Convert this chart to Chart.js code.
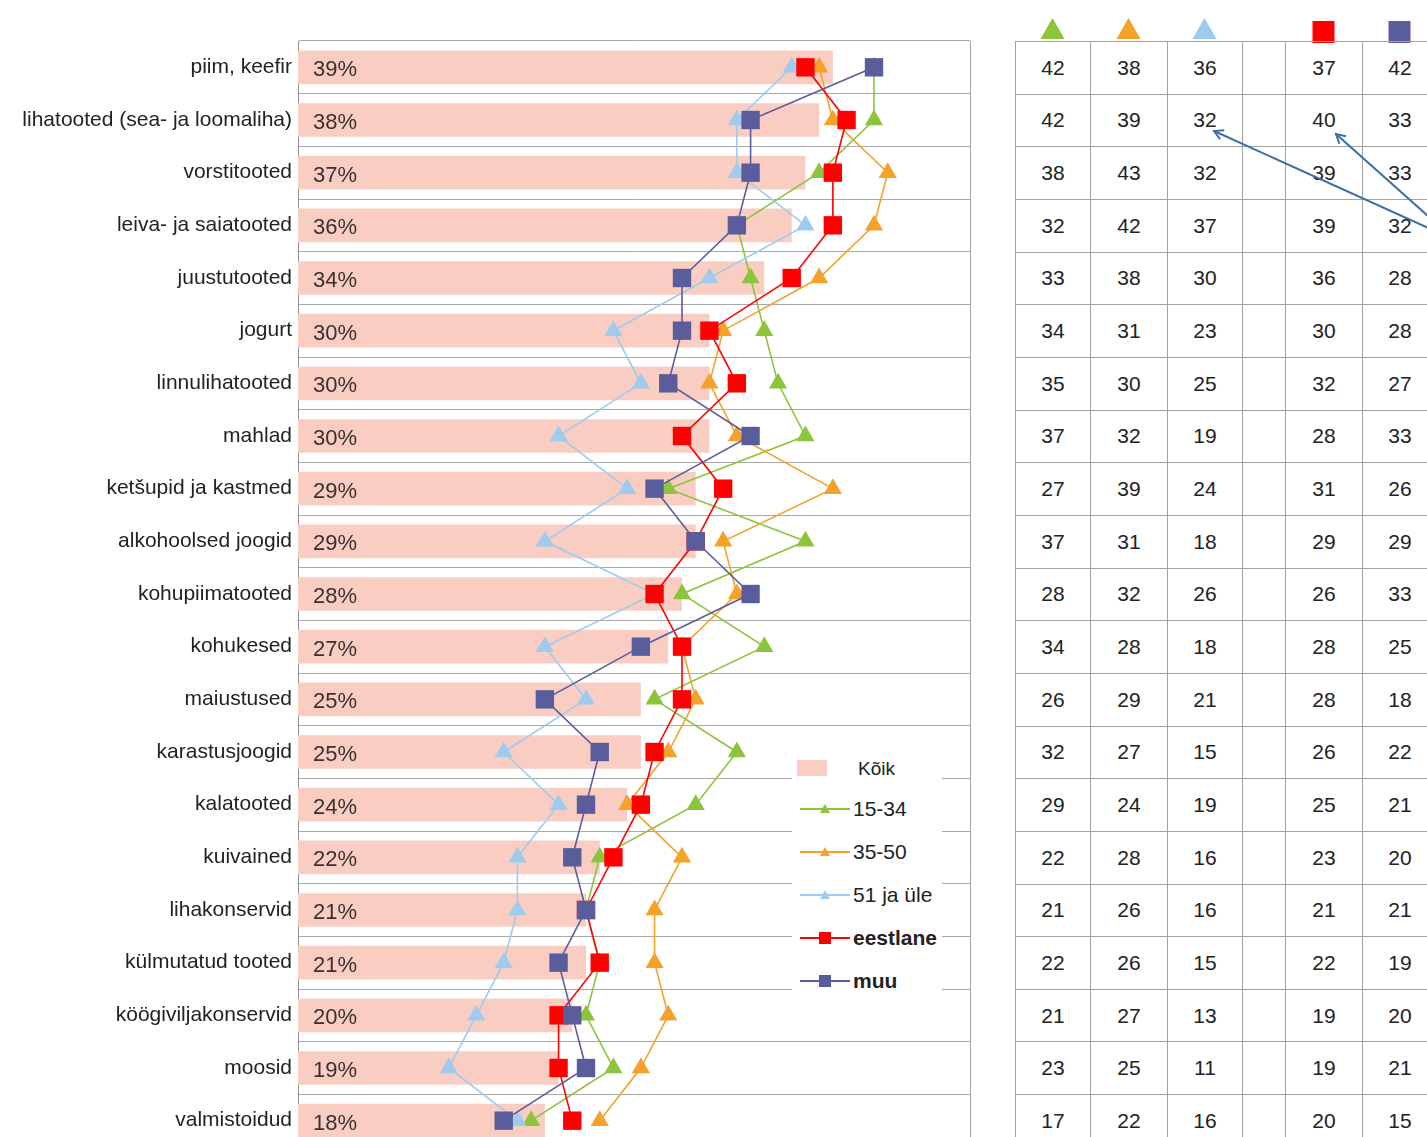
<!DOCTYPE html>
<html>
<head>
<meta charset="utf-8">
<script src="https://cdn.jsdelivr.net/npm/chart.js@4.4.1/dist/chart.umd.min.js"></script>
<style>
  html, body { margin: 0; padding: 0; background: #fff; overflow: hidden; }
  #wrap { position: relative; width: 1427px; height: 1137px; overflow: hidden; font-family: "Liberation Sans", Arial, sans-serif; }
  #chart { position: absolute; left: 0; top: 0; }
  #legend { position: absolute; background: #fff; color: #222; font-size: 21px; }
  #legend .item { position: absolute; left: 0; height: 24px; display: flex; align-items: center; }
  #tbl { position: absolute; border-collapse: collapse; table-layout: fixed; color: #222; font-size: 21px; }
  #tbl td { border: 1px solid #a3a3a3; text-align: center; padding: 0; }
  #icons { position: absolute; }
  #arrows { position: absolute; left: 0; top: 0; pointer-events: none; }
</style>
</head>
<body>
<div id="wrap">
  <canvas id="chart" width="983" height="1160" style="width:983px;height:1160px"></canvas>
  <div id="legend"></div>
  <svg id="icons" width="420" height="40"></svg>
  <table id="tbl"></table>
  <svg id="arrows" width="1427" height="1137">
    <defs>
      <marker id="head" markerWidth="12" markerHeight="12" refX="10" refY="6" orient="auto" markerUnits="userSpaceOnUse">
        <path d="M1,1 L10,6 L1,11" fill="none" stroke="#3c6ea6" stroke-width="2"/>
      </marker>
    </defs>
    <line x1="1455" y1="240" x2="1214" y2="131" stroke="#3c6ea6" stroke-width="2" marker-end="url(#head)"/>
    <line x1="1455" y1="240" x2="1336" y2="134" stroke="#3c6ea6" stroke-width="2" marker-end="url(#head)"/>
  </svg>
</div>
<script>
const categories = [
  'piim, keefir', 'lihatooted (sea- ja loomaliha)', 'vorstitooted', 'leiva- ja saiatooted',
  'juustutooted', 'jogurt', 'linnulihatooted', 'mahlad', 'ketšupid ja kastmed',
  'alkohoolsed joogid', 'kohupiimatooted', 'kohukesed', 'maiustused', 'karastusjoogid',
  'kalatooted', 'kuivained', 'lihakonservid', 'külmutatud tooted', 'köögiviljakonservid',
  'moosid', 'valmistoidud'
];
const koik      = [39, 38, 37, 36, 34, 30, 30, 30, 29, 29, 28, 27, 25, 25, 24, 22, 21, 21, 20, 19, 18];
const age15_34  = [42, 42, 38, 32, 33, 34, 35, 37, 27, 37, 28, 34, 26, 32, 29, 22, 21, 22, 21, 23, 17];
const age35_50  = [38, 39, 43, 42, 38, 31, 30, 32, 39, 31, 32, 28, 29, 27, 24, 28, 26, 26, 27, 25, 22];
const age51     = [36, 32, 32, 37, 30, 23, 25, 19, 24, 18, 26, 18, 21, 15, 19, 16, 16, 15, 13, 11, 16];
const eestlane  = [37, 40, 39, 39, 36, 30, 32, 28, 31, 29, 26, 28, 28, 26, 25, 23, 21, 22, 19, 19, 20];
const muu       = [42, 33, 33, 32, 28, 28, 27, 33, 26, 29, 33, 25, 18, 22, 21, 20, 21, 19, 20, 21, 15];

const lineSeries = [
  { label: '15-34',     data: age15_34, color: '#8cc43c', style: 'triangle', bold: false },
  { label: '35-50',     data: age35_50, color: '#f5a12a', style: 'triangle', bold: false },
  { label: '51 ja üle', data: age51,    color: '#9fcbef', style: 'triangle', bold: false },
  { label: 'eestlane',  data: eestlane, color: '#ff0000', style: 'rect',     bold: true },
  { label: 'muu',       data: muu,      color: '#5a5d9b', style: 'rect',     bold: true }
];
const barColor = '#f9cdc2';
const FONT = '"Liberation Sans", Arial, sans-serif';

const datasets = [{
  type: 'bar',
  label: 'Kõik',
  data: koik,
  backgroundColor: barColor,
  barPercentage: 0.64,
  categoryPercentage: 1,
  order: 6
}];
lineSeries.forEach((s, i) => {
  datasets.push({
    type: 'line',
    label: s.label,
    data: s.data,
    borderColor: s.color,
    backgroundColor: s.color,
    borderWidth: 1.6,
    pointStyle: s.style,
    pointRadius: s.style === 'rect' ? 13 : 10.5,
    pointBorderWidth: 0,
    fill: false,
    tension: 0,
    order: 5 - i
  });
});

// bar value labels and right frame line
const extras = {
  id: 'extras',
  afterDatasetDraw(chart, args) {
    if (args.index !== 0) return;
    const ctx = chart.ctx;
    const meta = chart.getDatasetMeta(0);
    ctx.save();
    ctx.font = '22px ' + FONT;
    ctx.fillStyle = '#3a3030';
    ctx.textBaseline = 'middle';
    meta.data.forEach((bar, i) => {
      ctx.fillText(koik[i] + '%', chart.chartArea.left + 15, bar.y + 3);
    });
    ctx.restore();
  },
  afterDraw(chart) {
    const ctx = chart.ctx, a = chart.chartArea;
    ctx.save();
    ctx.strokeStyle = '#a3a3a3';
    ctx.lineWidth = 1;
    ctx.beginPath();
    ctx.moveTo(a.right + 0.5, a.top);
    ctx.lineTo(a.right + 0.5, a.bottom);
    ctx.stroke();
    ctx.restore();
  }
};

const chart = new Chart(document.getElementById('chart'), {
  type: 'bar',
  data: { labels: categories, datasets: datasets },
  options: {
    responsive: false,
    animation: false,
    devicePixelRatio: 1,
    indexAxis: 'y',
    layout: { padding: { top: 41, right: 10, bottom: 4, left: 0 } },
    plugins: { legend: { display: false }, tooltip: { enabled: false } },
    scales: {
      x: { display: false, min: 0, max: 49 },
      y: {
        afterFit(scale) {
          scale.width = 298;
          scale.paddingTop = 0;
          scale.paddingBottom = 0;
        },
        grid: { offset: true, color: '#a9a9a9', drawTicks: false },
        border: { color: '#8f8f8f' },
        ticks: { color: '#222', padding: 6, font: { size: 21, family: FONT } }
      }
    }
  },
  plugins: [extras]
});

// legend overlay (white box over the grid)
const area = chart.chartArea;
const rowH = (area.bottom - area.top) / categories.length;
const legend = document.getElementById('legend');
legend.style.left = '792px';
legend.style.top = (area.top + rowH * 13.55) + 'px';
legend.style.width = '150px';
legend.style.height = '252px';

function symbolSvg(s) {
  let m;
  if (s.style === 'rect') {
    m = `<rect x="19" y="4" width="12" height="12" fill="${s.color}"/>`;
  } else {
    m = `<polygon points="25,5 30,14 20,14" fill="${s.color}"/>`;
  }
  return `<svg width="50" height="20"><line x1="0" y1="10" x2="50" y2="10" stroke="${s.color}" stroke-width="2"/>${m}</svg>`;
}
let html = `<div class="item" style="top:2px;left:5px"><svg width="30" height="18"><rect x="0" y="0" width="30" height="16" fill="${barColor}"/></svg><span style="margin-left:31px;font-size:19px">Kõik</span></div>`;
lineSeries.forEach((s, i) => {
  html += `<div class="item" style="top:${42 + i * 43}px;left:8px">${symbolSvg(s)}<span style="${s.bold ? 'font-weight:bold;' : ''}margin-left:3px">${s.label}</span></div>`;
});
legend.innerHTML = html;

// table to the right, rows aligned with the chart rows
const colWidths = [75, 77, 75, 43, 77, 75, 75];
const colSeries = [age15_34, age35_50, age51, null, eestlane, muu, null];
const tbl = document.getElementById('tbl');
tbl.style.left = '1015px';
tbl.style.top = area.top + 'px';
let t = '<colgroup>' + colWidths.map(w => `<col style="width:${w}px">`).join('') + '</colgroup>';
categories.forEach((c, r) => {
  t += `<tr style="height:${rowH}px">`;
  colSeries.forEach(arr => { t += `<td>${arr ? arr[r] : ''}</td>`; });
  t += '</tr>';
});
tbl.innerHTML = t;
tbl.style.width = colWidths.reduce((a, b) => a + b, 0) + 'px';

// header icons above table columns
const icons = document.getElementById('icons');
icons.style.left = '1015px';
icons.style.top = (area.top - 24) + 'px';
let x0 = 0, ic = '';
const headerSeries = [lineSeries[0], lineSeries[1], lineSeries[2], null, lineSeries[3], lineSeries[4]];
headerSeries.forEach((s, i) => {
  const cx = x0 + colWidths[i] / 2;
  if (s) {
    if (s.style === 'rect') ic += `<rect x="${cx - 11}" y="4" width="22" height="22" fill="${s.color}"/>`;
    else ic += `<polygon points="${cx},1 ${cx + 12},22 ${cx - 12},22" fill="${s.color}"/>`;
  }
  x0 += colWidths[i];
});
icons.innerHTML = ic;
</script>
</body>
</html>
